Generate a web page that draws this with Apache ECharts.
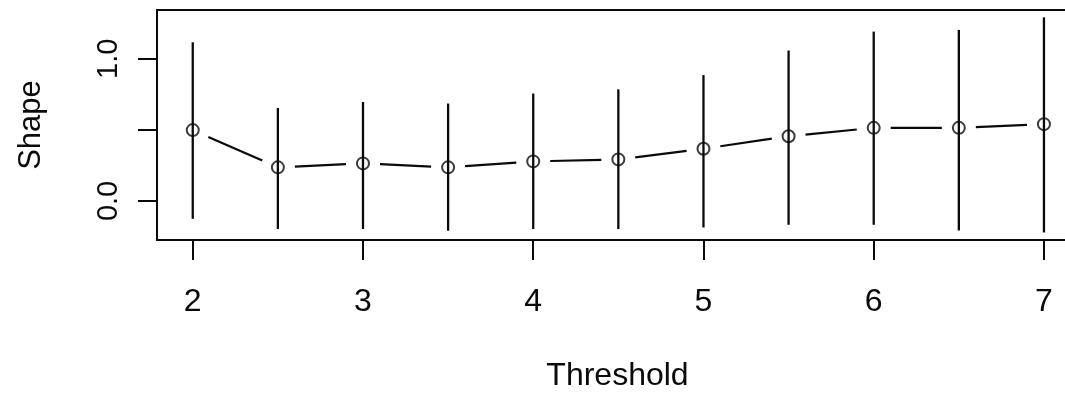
<!DOCTYPE html>
<html>
<head>
<meta charset="utf-8">
<script src="https://cdn.jsdelivr.net/npm/echarts@6/dist/echarts.min.js"></script>
<style>
  html, body { margin: 0; padding: 0; background: #fff; }
  #chart { width: 1065px; height: 394px; }
</style>
</head>
<body>
<div id="chart"></div>
<script>
// thresholds and shape estimates with their interval bounds
const thresholds = [2, 2.5, 3, 3.5, 4, 4.5, 5, 5.5, 6, 6.5, 7];
const shape = [0.498, 0.236, 0.264, 0.236, 0.278, 0.292, 0.367, 0.455, 0.514, 0.514, 0.54];
const lower = [-0.126, -0.198, -0.198, -0.21, -0.198, -0.198, -0.187, -0.168, -0.168, -0.208, -0.222];
const upper = [1.116, 0.654, 0.696, 0.685, 0.755, 0.785, 0.885, 1.058, 1.191, 1.203, 1.291];

const xTicks = [2, 3, 4, 5, 6, 7];
const yTicks = [0, 0.5, 1];
const yLabels = [0, 1];

const FONT = '"Liberation Sans", Arial, sans-serif';
const INK = '#0a0a0a';

const chart = echarts.init(document.getElementById('chart'));

// vertical bars: [x, lo, hi]
const barData = thresholds.map((t, i) => [t, lower[i], upper[i]]);
// segments between consecutive points: [x0, y0, x1, y1]
const segData = [];
for (let i = 0; i < thresholds.length - 1; i++) {
  segData.push([thresholds[i], shape[i], thresholds[i + 1], shape[i + 1]]);
}

const GAP = 17; // gap around each point, like R type="b"

const option = {
  backgroundColor: '#fff',
  animation: false,
  grid: {
    left: 157,
    top: 10,
    width: 921,
    height: 230,
    outerBoundsMode: 'none',
    containLabel: false,
    show: true,
    borderColor: INK,
    borderWidth: 2,
    backgroundColor: 'transparent',
  },
  xAxis: {
    type: 'value',
    min: 1.79,
    max: 7.2,
    name: 'Threshold',
    nameLocation: 'middle',
    nameGap: 120,
    nameTextStyle: { fontFamily: FONT, fontSize: 32, color: INK },
    axisLine: { show: false, onZero: false },
    splitLine: { show: false },
    axisTick: {
      show: true,
      inside: false,
      length: 20,
      customValues: xTicks,
      lineStyle: { color: INK, width: 2 },
    },
    axisLabel: {
      customValues: xTicks,
      margin: 46,
      fontFamily: FONT,
      fontSize: 32,
      color: INK,
    },
  },
  yAxis: {
    type: 'value',
    min: -0.275,
    max: 1.343,
    name: 'Shape',
    nameLocation: 'middle',
    nameRotate: 90,
    nameGap: 110,
    nameTextStyle: { fontFamily: FONT, fontSize: 31, color: INK },
    axisLine: { show: false, onZero: false },
    splitLine: { show: false },
    axisTick: {
      show: true,
      inside: false,
      length: 19,
      customValues: yTicks,
      lineStyle: { color: INK, width: 2 },
    },
    axisLabel: {
      customValues: yLabels,
      rotate: 90,
      margin: 34,
      fontFamily: FONT,
      fontSize: 29,
      color: INK,
      formatter: (v) => Number(v).toFixed(1),
    },
  },
  series: [
    {
      type: 'custom',
      data: barData,
      encode: { x: 0, y: [1, 2] },
      renderItem: (params, api) => {
        const a = api.coord([api.value(0), api.value(1)]);
        const b = api.coord([api.value(0), api.value(2)]);
        return {
          type: 'line',
          shape: { x1: a[0], y1: a[1], x2: b[0], y2: b[1] },
          style: { stroke: INK, lineWidth: 2.3 },
        };
      },
      z: 2,
    },
    {
      type: 'custom',
      data: segData,
      encode: { x: [0, 2], y: [1, 3] },
      renderItem: (params, api) => {
        const p = api.coord([api.value(0), api.value(1)]);
        const q = api.coord([api.value(2), api.value(3)]);
        const dx = q[0] - p[0];
        const dy = q[1] - p[1];
        const len = Math.sqrt(dx * dx + dy * dy);
        const ux = dx / len;
        const uy = dy / len;
        return {
          type: 'line',
          shape: {
            x1: p[0] + ux * GAP, y1: p[1] + uy * GAP,
            x2: q[0] - ux * GAP, y2: q[1] - uy * GAP,
          },
          style: { stroke: INK, lineWidth: 2.2 },
        };
      },
      z: 2,
    },
    {
      type: 'scatter',
      data: thresholds.map((t, i) => [t, shape[i]]),
      symbol: 'circle',
      symbolSize: 12,
      itemStyle: { color: 'transparent', borderColor: INK, borderWidth: 2 },
      z: 3,
    },
  ],
};

chart.setOption(option);
</script>
</body>
</html>
